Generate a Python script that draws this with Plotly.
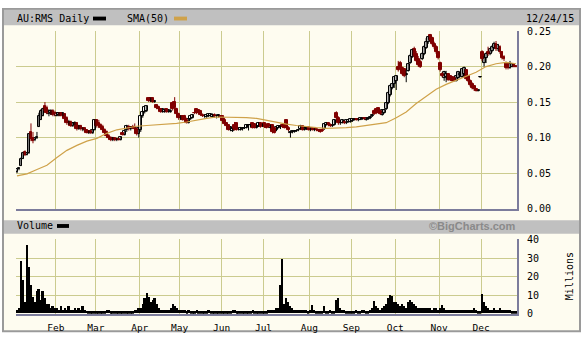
import plotly.graph_objects as go

W, H = 583, 341

# ---------------- data (trading-day index 0..250, Jan 2 2015 .. Dec 24 2015) ----------------
month_labels = ["Feb", "Mar", "Apr", "May", "Jun", "Jul", "Aug", "Sep", "Oct", "Nov", "Dec"]
month_start_idx = [20, 40, 62, 82, 103, 124, 147, 168, 190, 212, 233]

opens = [
    .052,.055,.060,.070,.080,.076,.078,.108,.100,.096,.100,.115,.125,.130,.145,.142,.133,.135,.138,.135,
    .130,.132,.134,.133,.133,.128,.120,.122,.116,.120,.121,.112,.116,.112,.113,.110,.107,.109,.106,.111,
    .124,.120,.118,.115,.111,.108,.102,.100,.096,.099,.097,.098,.097,.106,.104,.110,.115,.112,.115,.115,.112,.105,
    .110,.130,.136,.138,.155,.151,.156,.150,.146,.143,.140,.136,.136,.140,.136,.136,.148,.150,.140,.133,
    .127,.130,.130,.125,.121,.126,.128,.135,.140,.139,.138,.132,.130,.129,.130,.131,.129,.132,.130,.131,.130,
    .130,.125,.120,.117,.110,.109,.118,.120,.112,.111,.112,.113,.114,.117,.117,.120,.119,.114,.116,.120,.116,
    .120,.118,.119,.114,.117,.113,.110,.114,.115,.117,.118,.124,.114,.107,.108,.108,.109,.110,.112,.116,.111,.113,.115,
    .110,.113,.110,.112,.111,.110,.111,.112,.118,.121,.118,.116,.118,.135,.128,.120,.121,.122,.120,.122,.122,
    .123,.125,.126,.124,.125,.126,.127,.125,.126,.127,.130,.138,.140,.141,.137,.132,.135,.140,.148,.160,.170,.175,
    .180,.200,.205,.198,.197,.188,.194,.205,.213,.225,.218,.210,.207,.210,.218,.226,.235,.245,.240,.232,.228,.220,
    .205,.190,.184,.185,.190,.186,.185,.184,.180,.184,.188,.185,.190,.195,.186,.180,.176,.172,.168,.166,.185,
    .220,.205,.212,.220,.217,.222,.226,.232,.225,.228,.220,.214,.205,.204,.198,.200,.203,.201,
]
highs = [
    .055,.058,.072,.080,.082,.080,.106,.120,.108,.100,.108,.135,.140,.142,.150,.145,.140,.140,.140,.138,
    .136,.136,.136,.135,.134,.130,.125,.124,.122,.123,.122,.118,.118,.114,.113,.112,.110,.111,.112,.126,
    .126,.125,.120,.118,.113,.110,.105,.102,.101,.100,.100,.100,.102,.108,.110,.118,.118,.116,.118,.120,.114,.115,
    .132,.138,.145,.145,.156,.156,.157,.153,.147,.145,.141,.141,.140,.141,.140,.140,.150,.157,.142,.135,
    .131,.131,.132,.128,.127,.131,.133,.140,.141,.140,.139,.134,.133,.133,.134,.134,.134,.134,.132,.133,.131,
    .131,.128,.122,.118,.116,.113,.122,.121,.114,.115,.114,.114,.118,.118,.119,.121,.120,.119,.122,.121,.120,
    .121,.119,.120,.118,.119,.114,.116,.117,.117,.118,.119,.125,.116,.109,.110,.110,.110,.112,.118,.117,.116,.116,.116,
    .114,.114,.113,.113,.112,.111,.113,.120,.122,.122,.120,.118,.126,.137,.130,.122,.126,.124,.125,.126,.127,
    .127,.127,.127,.127,.128,.128,.128,.128,.128,.130,.133,.140,.141,.142,.138,.140,.140,.150,.165,.175,.176,.186,
    .188,.208,.208,.200,.198,.195,.205,.218,.225,.228,.222,.215,.210,.220,.230,.240,.243,.246,.242,.235,.230,.222,
    .207,.192,.194,.194,.191,.187,.186,.186,.188,.194,.193,.198,.200,.196,.187,.182,.178,.174,.170,.167,.186,
    .223,.215,.220,.228,.226,.230,.235,.236,.232,.230,.222,.216,.207,.206,.208,.205,.204,.202,
]
lows = [
    .050,.054,.060,.070,.074,.075,.077,.095,.092,.095,.098,.115,.125,.130,.135,.133,.130,.132,.130,.130,
    .130,.130,.130,.130,.125,.118,.118,.115,.115,.118,.110,.111,.110,.109,.108,.106,.105,.105,.105,.110,
    .114,.116,.112,.110,.105,.100,.098,.095,.095,.095,.095,.096,.096,.103,.103,.108,.110,.110,.112,.110,.103,.100,
    .108,.128,.134,.136,.150,.150,.149,.149,.140,.139,.135,.135,.135,.135,.135,.135,.138,.140,.132,.125,
    .125,.124,.123,.120,.120,.125,.127,.133,.133,.134,.131,.129,.128,.128,.129,.130,.128,.128,.127,.128,.128,
    .122,.118,.115,.110,.109,.108,.110,.110,.110,.110,.110,.112,.113,.110,.115,.113,.113,.113,.115,.114,.115,
    .114,.113,.114,.113,.106,.106,.109,.113,.112,.114,.113,.113,.109,.100,.106,.107,.108,.109,.111,.110,.110,.111,.110,
    .109,.110,.109,.109,.108,.107,.108,.111,.117,.116,.115,.115,.117,.125,.118,.118,.120,.119,.119,.121,.121,
    .122,.124,.124,.123,.125,.125,.125,.124,.125,.126,.129,.132,.133,.134,.132,.131,.134,.139,.147,.158,.168,.170,
    .167,.193,.195,.188,.185,.178,.193,.204,.212,.213,.207,.200,.198,.209,.216,.225,.232,.236,.230,.225,.218,.210,
    .193,.185,.180,.178,.180,.180,.179,.179,.179,.183,.185,.184,.188,.182,.178,.172,.168,.166,.165,.165,.184,
    .208,.200,.205,.215,.216,.220,.225,.222,.222,.218,.210,.208,.196,.196,.197,.199,.199,.199,
]
closes = [
    .055,.057,.070,.078,.075,.078,.105,.098,.095,.099,.100,.130,.138,.140,.138,.135,.138,.138,.132,.133,
    .135,.134,.131,.134,.126,.120,.122,.116,.120,.121,.112,.116,.112,.113,.110,.107,.109,.106,.111,.124,
    .116,.118,.113,.111,.107,.102,.100,.096,.100,.097,.098,.097,.101,.104,.109,.116,.112,.115,.113,.112,.105,.113,
    .130,.136,.143,.144,.151,.155,.150,.151,.141,.140,.136,.140,.139,.136,.139,.138,.140,.142,.133,.127,
    .130,.125,.125,.121,.126,.130,.132,.134,.134,.135,.132,.130,.131,.132,.133,.133,.132,.130,.131,.132,.129,
    .123,.119,.116,.111,.115,.112,.111,.111,.113,.114,.113,.113,.117,.117,.118,.114,.114,.118,.120,.115,.119,
    .115,.114,.115,.117,.108,.107,.115,.116,.116,.115,.114,.114,.110,.108,.109,.109,.109,.110,.116,.111,.115,.114,.111,
    .113,.111,.112,.110,.109,.108,.109,.119,.121,.117,.116,.117,.125,.127,.120,.121,.125,.120,.124,.125,.126,
    .126,.126,.125,.126,.127,.127,.126,.127,.127,.129,.132,.133,.134,.135,.133,.139,.139,.148,.163,.173,.175,.185,
    .186,.195,.197,.190,.187,.190,.203,.215,.223,.215,.208,.202,.200,.218,.228,.235,.242,.238,.232,.227,.220,.212,
    .195,.187,.192,.190,.181,.181,.180,.180,.186,.192,.190,.196,.198,.183,.180,.174,.170,.168,.166,.166,.185,
    .210,.212,.218,.217,.225,.228,.232,.225,.230,.220,.212,.210,.198,.198,.203,.204,.200,.200,
]
volume_m = [
    2,3,28,18,6,37,25,15,9,6,12,13,7,12,8,5,5,3,4,3,
    3,2,4,2,3,2,4,2,2,3,2,3,2,4,2,1.5,1,1,1,1,
    1,1,1,1,1,2,2,1,1,1,1,1,1,1,1,1,1,1,1,2,2,3,
    3,5,8,11,9,6,7,8,5,3,2,2,2,2,2,3,5,4,3,2,
    2,2,2,1,2,1,1,1,2,1,1,1,1,1,2,1,1,1,1,1,1,
    1,1,1,1,1,2,2,1,1,1,1,1,1,1,1,2,1,1,1,1,1,
    1,1,2,2,2,2,3,3,15,29,5,8,6,4,3,2,2,2,2,2,2,2,1,
    2,4.5,2,1,1,1,1,4,1,1,2,1,1,7,8,3,2,2,1,1,1,
    1,1,2,1,1,2,2,1,1,2,3,6.5,4,3,2,3,4,5,8,10,9.5,6,
    6,5,4,5,4,3,6,7,6,5,4,3,3,3,3,3,3,3,2,3,3,2,
    3,4.5,3,2,2,2,2,2,2,2,2,2,2,2,2,2,2,3,2,1,1,
    10.5,6,4,3,2,2,3,2,2,3,2,2,2,2,2,1,1,1,
]
sma_idx = list(range(0, 251, 5))
sma_vals = [
    .046,.049,.055,.061,.072,.082,.089,.095,.099,.106,
    .111,.114,.116,.117,.118,.1185,.120,.122,.125,.127,
    .129,.129,.129,.128,.127,.124,.121,.119,.117,.115,
    .114,.113,.113,.114,.115,.117,.119,.121,.128,.136,
    .148,.158,.168,.175,.181,.186,.192,.200,.204,.206,.204,
]
price_ticks = [0, 0.05, 0.10, 0.15, 0.20, 0.25]
price_tick_text = ["0.00", "0.05", "0.10", "0.15", "0.20", "0.25"]
vol_ticks = [0, 10, 20, 30, 40]

n = len(closes)
assert len(opens) == n and len(highs) == n and len(lows) == n and len(volume_m) == n
days = list(range(n))

# ---------------- styling ----------------
CREAM = "#fefcf0"
GRID = "#cbcb8f"
AXIS = "#7c7c9c"
BAR = "#c0c0c0"
MAROON = "#800000"
TAN = "#cfa24a"
MONO = "DejaVu Sans Mono"
MIN_BODY = 0.0006


def px(x):
    return x / W


def py(y):
    return 1 - y / H


grid_vals = [m - 0.5 for m in month_start_idx]

# split days into up (hollow) and down (filled) candles
up = [i for i in days if closes[i] >= opens[i]]
dn = [i for i in days if closes[i] < opens[i]]

fig = go.Figure()


def wick_trace(idx, color):
    xs, ys = [], []
    for i in idx:
        xs += [i, i, None]
        ys += [lows[i], highs[i], None]
    return go.Scatter(x=xs, y=ys, mode="lines", xaxis="x", yaxis="y",
                      line=dict(color=color, width=1), showlegend=False, hoverinfo="skip")


def body_trace(idx, fill, edge):
    base = [min(opens[i], closes[i]) for i in idx]
    size = [max(abs(closes[i] - opens[i]), MIN_BODY) for i in idx]
    return go.Bar(x=idx, y=size, base=base, xaxis="x", yaxis="y", width=1.45,
                  marker=dict(color=fill, line=dict(color=edge, width=1)),
                  showlegend=False, hoverinfo="skip")


fig.add_trace(wick_trace(up, "black"))
fig.add_trace(wick_trace(dn, MAROON))
fig.add_trace(body_trace(up, "#ffffff", "black"))
fig.add_trace(body_trace(dn, MAROON, MAROON))
fig.add_trace(go.Scatter(
    x=sma_idx, y=sma_vals, mode="lines", xaxis="x", yaxis="y",
    line=dict(color=TAN, width=1.2), showlegend=False, hoverinfo="skip",
))
fig.add_trace(go.Bar(
    x=days, y=volume_m, xaxis="x2", yaxis="y2", width=1.0,
    marker=dict(color="black", line=dict(width=0)), showlegend=False, hoverinfo="skip",
))

xcommon = dict(
    range=[-0.5, n - 0.5], domain=[px(16), px(517)], tickmode="array", tickvals=grid_vals,
    showgrid=True, gridcolor=GRID, gridwidth=1, zeroline=False, showline=True,
    linecolor=AXIS, linewidth=2, ticks="", fixedrange=True,
)
ycommon = dict(
    side="right", showgrid=True, gridcolor=GRID, gridwidth=1, zeroline=False,
    showline=True, linecolor=AXIS, linewidth=2, ticks="", fixedrange=True,
    tickfont=dict(family=MONO, size=10, color="black"), ticklabelstandoff=6,
)

fig.update_layout(
    width=W, height=H, margin=dict(l=0, r=0, t=0, b=0),
    paper_bgcolor="white", plot_bgcolor=CREAM,
    barmode="overlay", bargap=0, showlegend=False,
    xaxis=dict(**xcommon, anchor="y", showticklabels=False),
    yaxis=dict(**ycommon, anchor="x", domain=[py(210), py(26)], range=[0, 0.25],
               tickvals=price_ticks, ticktext=price_tick_text),
    xaxis2=dict(**xcommon, anchor="y2", ticktext=month_labels, showticklabels=True,
                tickfont=dict(family=MONO, size=9.5, color="black"), ticklabelstandoff=4),
    yaxis2=dict(**ycommon, anchor="x2", domain=[py(319), py(242)], range=[0, 40],
                tickvals=vol_ticks),
)

shapes = [
    dict(type="rect", xref="paper", yref="paper", x0=px(3), x1=px(580), y0=py(337), y1=py(3),
         fillcolor=CREAM, line=dict(color="#9a9a9a", width=2), layer="below"),
    dict(type="rect", xref="paper", yref="paper", x0=px(4), x1=px(579), y0=py(20), y1=py(4),
         fillcolor=BAR, line=dict(width=0), layer="below"),
    dict(type="rect", xref="paper", yref="paper", x0=px(4), x1=px(579), y0=py(236), y1=py(222),
         fillcolor=BAR, line=dict(width=0), layer="below"),
    dict(type="rect", xref="paper", yref="paper", x0=px(93), x1=px(106), y0=py(15), y1=py(11),
         fillcolor="black", line=dict(width=0)),
    dict(type="rect", xref="paper", yref="paper", x0=px(174), x1=px(187), y0=py(15), y1=py(11),
         fillcolor=TAN, line=dict(width=0)),
    dict(type="rect", xref="paper", yref="paper", x0=px(57), x1=px(69), y0=py(230), y1=py(226),
         fillcolor="black", line=dict(width=0)),
]
fig.update_layout(shapes=shapes)


def ann(text, x, y, xanchor="left", size=10, family=MONO, color="black", angle=0):
    return dict(text=text, xref="paper", yref="paper", x=px(x), y=py(y), xanchor=xanchor,
                yanchor="middle", showarrow=False, textangle=angle,
                font=dict(family=family, size=size, color=color))


fig.update_layout(annotations=[
    ann("AU:RMS Daily", 15, 13),
    ann("SMA(50)", 125, 13),
    ann("12/24/15", 576, 13, xanchor="right"),
    ann("Volume", 15, 228),
    ann("<b>©BigCharts.com</b>", 518, 228, xanchor="right", size=11,
        family="Liberation Sans", color="#8a8a8a"),
    ann("Millions", 569, 280, xanchor="center", angle=-90),
])

fig.write_html("out.html")
